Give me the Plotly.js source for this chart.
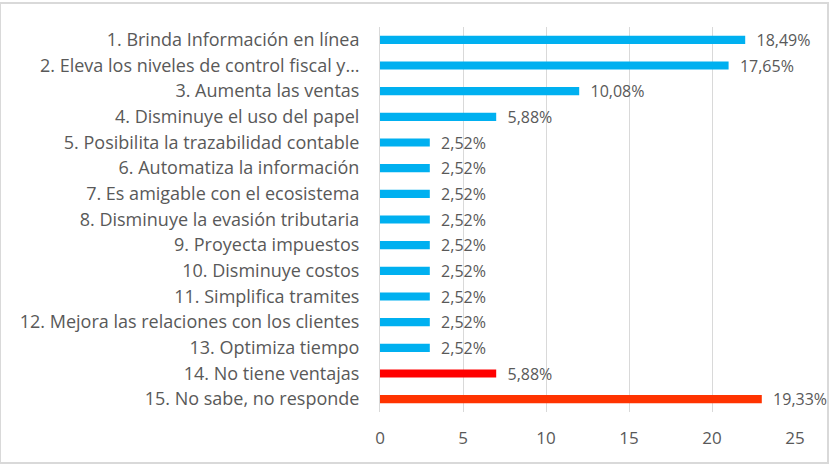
<!DOCTYPE html>
<html><head><meta charset="utf-8">
<script src="https://cdn.plot.ly/plotly-3.0.1.min.js"></script>
<style>body{margin:0;background:#fff}#c{width:831px;height:466px}</style>
</head><body><div id="c"></div>
<script>
const categories = [
  "1. Brinda Información en línea",
  "2. Eleva los niveles de control fiscal y…",
  "3. Aumenta las ventas",
  "4. Disminuye el uso del papel",
  "5. Posibilita la trazabilidad contable",
  "6. Automatiza la información",
  "7. Es amigable con el ecosistema",
  "8. Disminuye la evasión tributaria",
  "9. Proyecta impuestos",
  "10. Disminuye costos",
  "11. Simplifica tramites",
  "12. Mejora las relaciones con los clientes",
  "13. Optimiza tiempo",
  "14. No tiene ventajas",
  "15. No sabe, no responde"
];
const counts = [22, 21, 12, 7, 3, 3, 3, 3, 3, 3, 3, 3, 3, 7, 23];
const percentLabels = ["18,49%","17,65%","10,08%","5,88%","2,52%","2,52%","2,52%","2,52%","2,52%","2,52%","2,52%","2,52%","2,52%","5,88%","19,33%"];
const barColors = ["#00B0F0","#00B0F0","#00B0F0","#00B0F0","#00B0F0","#00B0F0","#00B0F0","#00B0F0","#00B0F0","#00B0F0","#00B0F0","#00B0F0","#00B0F0","#FF0000","#FF3300"];
const xTicks = [0, 5, 10, 15, 20, 25];

const font = {family: "Open Sans, Noto Sans, sans-serif", size: 16, color: "#595959"};
const catFont = {family: "Open Sans, Noto Sans, sans-serif", size: 18, color: "#595959"};

Plotly.newPlot("c", [{
  type: "bar",
  orientation: "h",
  y: categories,
  x: counts,
  text: percentLabels,
  texttemplate: "  %{text}",
  textposition: "outside",
  constraintext: "none",
  cliponaxis: false,
  textfont: font,
  marker: {color: barColors},
  width: 0.32,
  hoverinfo: "none"
}], {
  width: 831, height: 466,
  margin: {l: 380, r: 36, t: 27, b: 54},
  paper_bgcolor: "#fff", plot_bgcolor: "#fff",
  font: font,
  showlegend: false,
  xaxis: {
    range: [0, 25], tickvals: xTicks, ticktext: xTicks.map(String),
    showgrid: true, gridcolor: "#D9D9D9", gridwidth: 1,
    zeroline: false, showline: false, ticks: "",
    tickfont: {family: font.family, size: 17, color: "#595959"}, ticklabelstandoff: 14
  },
  yaxis: {
    autorange: "reversed", type: "category",
    showline: true, linecolor: "#D9D9D9", linewidth: 1,
    ticks: "", showgrid: false, tickfont: catFont, ticklabelstandoff: 16
  },
  shapes: [{
    type: "rect", xref: "paper", yref: "paper", layer: "below",
    x0: -380/415, x1: 1 + 33/415, y0: -51/385, y1: 1 + 24/385,
    line: {color: "#D9D9D9", width: 2}
  }]
}, {displayModeBar: false, staticPlot: true});
</script></body></html>
